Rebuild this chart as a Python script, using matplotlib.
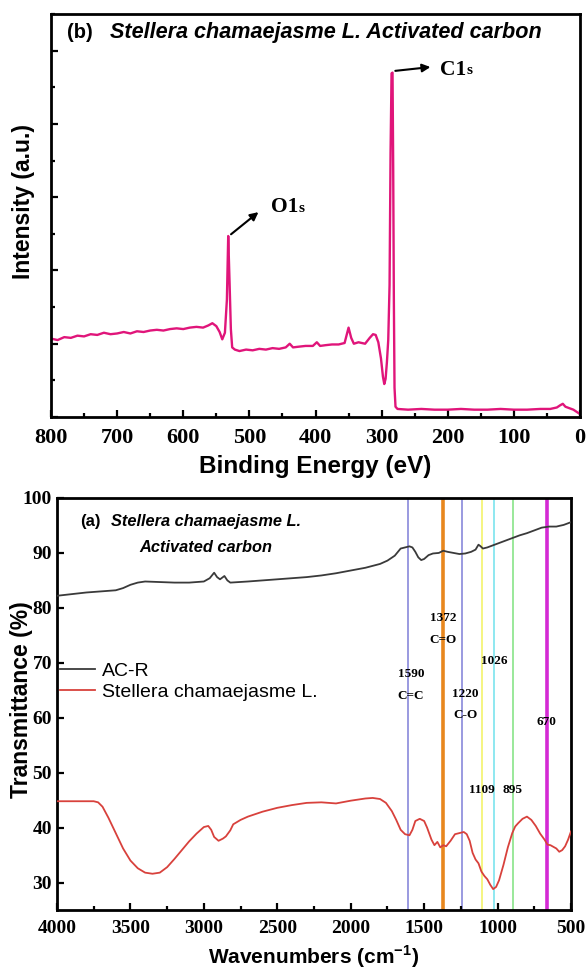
import matplotlib
matplotlib.use("Agg")
import matplotlib.pyplot as plt
from matplotlib.ticker import MultipleLocator, NullFormatter
from matplotlib.font_manager import FontProperties

# ---------------- XPS survey (panel b) ----------------
xps_energy = [800, 790, 780, 770, 760, 750, 740, 730, 720, 710, 700, 690, 680, 670, 660, 650,
              640, 630, 620, 610, 600, 590, 580, 570, 562, 556, 550, 545, 541, 537, 534, 532,
              530, 528, 526, 522, 515, 505, 495, 485, 475, 465, 455, 445, 439, 434, 425, 415,
              404, 398, 393, 385, 375, 365, 356, 350, 346, 342, 335, 325, 318, 313, 309, 305,
              301, 298, 296, 294, 292, 290, 288, 286.5, 285, 283.5, 282.5, 281.5, 280.5, 279,
              276, 260, 240, 220, 200, 180, 160, 140, 120, 100, 80, 60, 45, 35, 30, 26, 22,
              16, 10, 5, 0]
xps_intensity = [1.07, 1.05, 1.09, 1.08, 1.11, 1.10, 1.13, 1.12, 1.15, 1.13, 1.14, 1.16, 1.14, 1.17, 1.16, 1.18,
                 1.19, 1.18, 1.20, 1.21, 1.20, 1.22, 1.23, 1.22, 1.25, 1.28, 1.24, 1.16, 1.06, 1.15, 1.60, 2.47,
                 1.85, 1.20, 0.95, 0.92, 0.90, 0.92, 0.91, 0.93, 0.92, 0.94, 0.93, 0.95, 1.00, 0.95, 0.96, 0.97,
                 0.97, 1.02, 0.97, 0.98, 0.99, 0.99, 1.01, 1.22, 1.08, 1.00, 1.02, 1.00, 1.08, 1.13, 1.12, 1.02,
                 0.80, 0.55, 0.45, 0.52, 0.75, 1.05, 1.80, 3.60, 4.69, 4.70, 3.40, 1.60, 0.40, 0.14,
                 0.11, 0.10, 0.11, 0.10, 0.10, 0.11, 0.10, 0.10, 0.11, 0.10, 0.10, 0.11, 0.11, 0.13, 0.16, 0.18, 0.14,
                 0.12, 0.10, 0.07, 0.04]

# ---------------- FTIR (panel a) ----------------
acr_wn = [4000, 3900, 3800, 3700, 3600, 3550, 3500, 3450, 3400, 3300, 3200, 3100, 3000, 2960,
          2930, 2910, 2890, 2860, 2840, 2820, 2700, 2500, 2300, 2200, 2100, 2000, 1900, 1800,
          1750, 1700, 1660, 1630, 1600, 1580, 1560, 1540, 1520, 1500, 1470, 1440, 1400, 1370,
          1340, 1300, 1260, 1220, 1180, 1150, 1130, 1115, 1100, 1070, 1040, 1000, 950, 900,
          850, 800, 750, 700, 650, 600, 550, 500]
acr_t = [82.2, 82.5, 82.8, 83.0, 83.2, 83.6, 84.2, 84.6, 84.8, 84.7, 84.6, 84.6, 84.8, 85.4,
         86.4, 85.6, 85.2, 85.8, 85.0, 84.6, 84.8, 85.2, 85.6, 85.9, 86.3, 86.8, 87.3, 88.0,
         88.6, 89.5, 90.8, 91.0, 91.2, 91.0, 90.2, 89.2, 88.7, 88.9, 89.6, 89.9, 90.0, 90.4,
         90.2, 90.0, 89.8, 89.9, 90.2, 90.6, 91.5, 91.2, 90.8, 91.0, 91.3, 91.7, 92.2, 92.7,
         93.2, 93.6, 94.1, 94.6, 94.8, 94.8, 95.1, 95.6]

sc_wn = [4000, 3900, 3800, 3750, 3720, 3690, 3650, 3600, 3550, 3500, 3450, 3400, 3350, 3300,
         3250, 3200, 3150, 3100, 3050, 3000, 2970, 2950, 2930, 2900, 2870, 2850, 2820, 2800,
         2750, 2700, 2600, 2500, 2400, 2300, 2200, 2100, 2000, 1900, 1850, 1800, 1760, 1720,
         1690, 1660, 1630, 1600, 1580, 1560, 1530, 1500, 1480, 1450, 1430, 1410, 1390, 1370,
         1350, 1320, 1290, 1260, 1230, 1210, 1190, 1170, 1150, 1130, 1110, 1090, 1070, 1050,
         1030, 1010, 990, 960, 930, 900, 880, 860, 830, 800, 770, 740, 710, 680, 660, 640,
         620, 600, 580, 560, 540, 520, 500]
sc_t = [44.8, 44.8, 44.8, 44.8, 44.6, 43.8, 41.8, 39.0, 36.2, 34.0, 32.6, 31.8, 31.6, 31.8,
        32.8, 34.3, 35.9, 37.5, 38.9, 40.1, 40.3, 39.6, 38.3, 37.6, 38.0, 38.4, 39.5, 40.6,
        41.4, 42.0, 42.9, 43.6, 44.1, 44.5, 44.6, 44.4, 44.9, 45.3, 45.4, 45.2, 44.5, 43.0,
        41.4, 39.6, 38.8, 38.6, 39.6, 41.2, 41.6, 41.2, 40.0, 37.8, 36.8, 37.4, 36.4, 36.8,
        36.6, 37.6, 38.8, 39.0, 39.2, 38.8, 37.6, 35.4, 34.2, 33.5, 32.0, 31.2, 30.6, 29.6,
        28.8, 29.2, 30.4, 33.2, 36.4, 39.0, 40.2, 40.8, 41.6, 42.0, 41.4, 40.3, 38.9, 37.8, 36.9, 36.8,
        36.5, 36.2, 35.6, 35.9, 36.6, 37.8, 39.3]

band_pos = [1610, 1372, 1245, 1109, 1026, 895, 662]
band_colors = ["#9a9ae0", "#e8871e", "#9a9ae0", "#f5f580", "#8ee8f0", "#9ae89a", "#d42ad4"]
band_widths = [1.4, 2.6, 1.4, 1.4, 1.4, 1.4, 2.6]

band_labels = ["1590\nC=C", "1372\nC=O", "1026", "1220\nC-O", "670", "1109", "895"]
band_label_x = [1590, 1372, 1026, 1220, 670, 1109, 895]
band_label_y = [65.9, 76.2, 70.3, 62.4, 59.3, 46.8, 46.8]

fig = plt.figure(figsize=(5.87, 9.73), dpi=100)
W, H = 587.0, 973.0

def add_ax(l, r, t, b):
    return fig.add_axes([l / W, (H - b) / H, (r - l) / W, (b - t) / H])

def serif(size):
    return FontProperties(family="Liberation Serif", weight="bold", size=size)

# ---------- panel b ----------
ax1 = add_ax(51, 580, 14, 417)
ax1.plot(xps_energy, xps_intensity, color="#e0157a", lw=1.7)
ax1.set_xlim(800, 0)
ax1.set_ylim(0, 5.5)
ax1.xaxis.set_major_locator(MultipleLocator(100))
ax1.xaxis.set_minor_locator(MultipleLocator(50))
ax1.yaxis.set_major_locator(MultipleLocator(1))
ax1.yaxis.set_minor_locator(MultipleLocator(0.5))
ax1.yaxis.set_major_formatter(NullFormatter())
ax1.tick_params(which="both", direction="in", top=False, right=False, width=1.6)
ax1.tick_params(which="major", length=5)
ax1.tick_params(which="minor", length=3)
ax1.tick_params(axis="x", pad=8)
for lab in ax1.get_xticklabels():
    lab.set_fontproperties(serif(16))
for s in ax1.spines.values():
    s.set_linewidth(2.0)
ax1.set_xlabel("Binding Energy (eV)", family="Liberation Sans", weight="bold", fontsize=17.5, labelpad=5)
ax1.set_ylabel("Intensity (a.u.)", family="Liberation Sans", weight="bold", fontsize=16.5)
ax1.yaxis.set_label_coords(-0.03, 0.535)

ax1.text(0.03, 0.955, "(b)", transform=ax1.transAxes, family="Liberation Sans", weight="bold",
         fontsize=14.5, va="center", ha="left")
ax1.text(0.112, 0.955, "Stellera chamaejasme L. Activated carbon", transform=ax1.transAxes,
         family="Liberation Sans", weight="bold", style="italic", fontsize=15.6, va="center", ha="left")

# peak annotations
ax1.annotate("", xy=(222, 4.78), xytext=(283.5, 4.72),
             arrowprops=dict(arrowstyle="-|>", color="black", lw=1.5, mutation_scale=12))
t1 = ax1.text(211, 4.74, "C1", fontproperties=serif(15.5), va="center", ha="left")
ax1.annotate("s", xy=(1, 0.12), xycoords=t1, fontproperties=serif(11), va="bottom", ha="left")
ax1.annotate("", xy=(483, 2.82), xytext=(531, 2.47),
             arrowprops=dict(arrowstyle="-|>", color="black", lw=1.5, mutation_scale=12))
t2 = ax1.text(467, 2.86, "O1", fontproperties=serif(15.5), va="center", ha="left")
ax1.annotate("s", xy=(1, 0.12), xycoords=t2, fontproperties=serif(11), va="bottom", ha="left")

# ---------- panel a ----------
ax2 = add_ax(57, 571, 498, 910)
for x, c, w in zip(band_pos, band_colors, band_widths):
    ax2.axvline(x, color=c, lw=w, zorder=1)
ax2.plot(acr_wn, acr_t, color="#3a3a3a", lw=1.3, label="AC-R", zorder=3)
ax2.plot(sc_wn, sc_t, color="#d8413c", lw=1.3, label="Stellera chamaejasme L.", zorder=3)
ax2.set_xlim(4000, 500)
ax2.set_ylim(25, 100)
ax2.xaxis.set_major_locator(MultipleLocator(500))
ax2.xaxis.set_minor_locator(MultipleLocator(250))
ax2.yaxis.set_major_locator(MultipleLocator(10))
ax2.tick_params(which="both", direction="in", top=False, right=False, width=1.6)
ax2.tick_params(which="major", length=5)
ax2.tick_params(which="minor", length=3)
ax2.tick_params(axis="x", pad=7)
for lab in ax2.get_xticklabels() + ax2.get_yticklabels():
    lab.set_fontproperties(serif(14))
for s in ax2.spines.values():
    s.set_linewidth(2.0)
ax2.set_xlabel("Wavenumbers (cm$^{\\mathregular{-1}}$)", family="Liberation Sans", weight="bold",
               fontsize=15, labelpad=5)
ax2.set_ylabel("Transmittance (%)", family="Liberation Sans", weight="bold", fontsize=16.5)
ax2.yaxis.set_label_coords(-0.047, 0.51)

ax2.text(0.045, 0.944, "(a)", transform=ax2.transAxes, family="Liberation Sans", weight="bold",
         fontsize=12, va="center", ha="left")
ax2.text(0.29, 0.944, "Stellera chamaejasme L.", transform=ax2.transAxes, family="Liberation Sans",
         weight="bold", style="italic", fontsize=11.8, va="center", ha="center")
ax2.text(0.29, 0.879, "Activated carbon", transform=ax2.transAxes, family="Liberation Sans",
         weight="bold", style="italic", fontsize=11.8, va="center", ha="center")

for lab, x, y in zip(band_labels, band_label_x, band_label_y):
    ax2.text(x, y, lab, ha="center", va="center", linespacing=2.1, zorder=4,
             fontproperties=serif(9.5))

leg = ax2.legend(loc="upper left", bbox_to_anchor=(-0.02, 0.635), frameon=False,
                 prop=dict(family="Liberation Sans", size=14), handlelength=1.8,
                 handletextpad=0.35, labelspacing=0.2, borderaxespad=0.3)

fig.savefig("out.png", dpi=100)
